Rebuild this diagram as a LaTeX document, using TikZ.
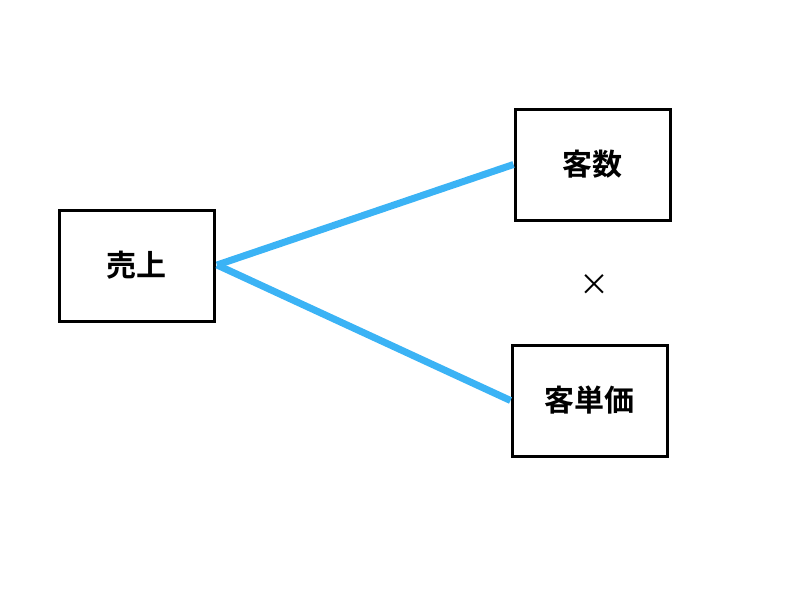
\documentclass[tikz,border=0pt]{standalone}
\usepackage{fontspec}
\newfontfamily\cjk{Noto Sans CJK JP}[BoldFont={* Bold}]
\definecolor{linkblue}{HTML}{3BB3F5}
\begin{document}
\begin{tikzpicture}[x=1pt,y=-1pt,
  box/.style={draw=black,line width=3pt,minimum width=155pt,minimum height=111pt,font=\cjk\bfseries\fontsize{30}{36}\selectfont,inner sep=0pt},
  link/.style={draw=linkblue,line width=7pt}]
\useasboundingbox (0,0) rectangle (800,600);
\node[box] (a) at (136.5,265.5) {売上};
\node[box] (b) at (592.5,164.5) {客数};
\node[box] (c) at (589.5,400.5) {客単価};
\node[font=\cjk\fontsize{30}{36}\selectfont] (x) at (594,285) {×};
\coordinate (s) at (217,265);
\draw[link] (s) -- (b.west);
\draw[link] (s) -- (c.west);
\end{tikzpicture}
\end{document}
